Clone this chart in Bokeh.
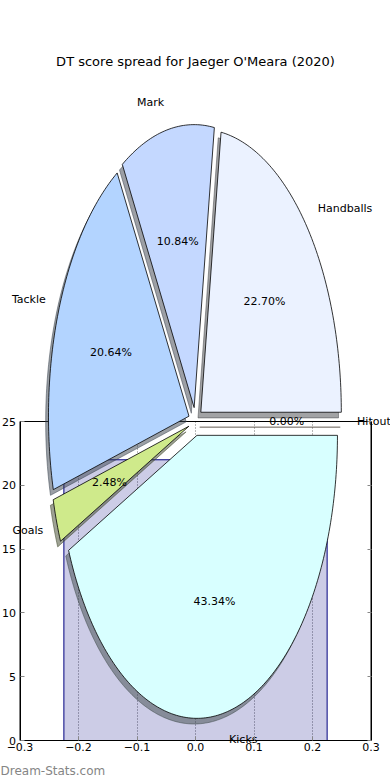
import numpy as np
from bokeh.plotting import figure
from bokeh.models import Range1d, LinearAxis, FixedTicker, ColumnDataSource, Label, CustomJSTickFormatter
from bokeh.core.properties import value
from bokeh.embed import file_html
from bokeh.resources import INLINE

# ---------------- data ----------------
title = "DT score spread for Jaeger O'Meara (2020)"
categories = ["Handballs", "Mark", "Tackle", "Goals", "Kicks", "Hitout"]
shares = [22.70, 10.84, 20.64, 2.48, 43.34, 0.00]
colors = ["#ebf2ff", "#c4d8ff", "#b3d4ff", "#cfea8b", "#d8ffff", "#ffe4c4"]

hist_edges = [-0.225, 0.225]
hist_counts = [22]

x_ticks = [-0.3, -0.2, -0.1, 0.0, 0.1, 0.2, 0.3]
x_tick_labels = ["\u22120.3", "\u22120.2", "\u22120.1", "0.0", "0.1", "0.2", "0.3"]
y_ticks = [0, 5, 10, 15, 20, 25]
x_limits = (-0.3, 0.3)
y_limits = (0, 25)
watermark = "Dream-Stats.com"

# ---------------- style / layout ----------------
W, H = 390, 780
FONT = "DejaVu Sans"
FS = "11px"
EXPLODE = 0.05
SHADOW = -0.02
LABEL_DIST = 1.1
PCT_DIST = 0.6

# pixel calibration of the histogram axes
AX_L, AX_R, AX_T, AX_B = 19.5, 370.5, 421.0, 740.0
# pixel calibration of the pie
PIE_CX, PIE_CY, PIE_RX, PIE_RY = 195.0, 421.0, 140.5, 283.0

sx = (x_limits[1] - x_limits[0]) / (AX_R - AX_L)
sy = (y_limits[1] - y_limits[0]) / (AX_B - AX_T)
hist_xr = Range1d(x_limits[0] - AX_L * sx, x_limits[0] + (W - AX_L) * sx)
hist_yr = Range1d(y_limits[0] - (H - AX_B) * sy, y_limits[0] + AX_B * sy)
pie_xr = Range1d(-PIE_CX / PIE_RX, (W - PIE_CX) / PIE_RX)
pie_yr = Range1d(-(H - PIE_CY) / PIE_RY, PIE_CY / PIE_RY)

p = figure(width=W, height=H, x_range=hist_xr, y_range=hist_yr,
           min_border=0, toolbar_location=None, output_backend="svg",
           outline_line_color=None, background_fill_color="white")
p.extra_x_ranges = {"pie": pie_xr}
p.extra_y_ranges = {"pie": pie_yr}

TICK_COLOR = "#888888"

# bottom axis
xa = p.xaxis[0]
xa.fixed_location = y_limits[0]
xa.bounds = x_limits
xa.ticker = FixedTicker(ticks=x_ticks)
xa.major_label_overrides = {t: l for t, l in zip(x_ticks, x_tick_labels)}
xa.major_tick_in = 4
xa.major_tick_out = 0
xa.minor_tick_in = 0
xa.minor_tick_out = 0
xa.major_label_standoff = 2
xa.major_label_text_font = FONT
xa.major_label_text_font_size = FS
xa.major_label_text_color = "black"
xa.axis_line_color = "black"
xa.major_tick_line_color = TICK_COLOR

# left axis
ya = p.yaxis[0]
ya.fixed_location = x_limits[0]
ya.bounds = y_limits
ya.ticker = FixedTicker(ticks=y_ticks)
ya.major_tick_in = 4
ya.major_tick_out = 0
ya.minor_tick_in = 0
ya.minor_tick_out = 0
ya.major_label_standoff = 4
ya.major_label_text_font = FONT
ya.major_label_text_font_size = FS
ya.major_label_text_color = "black"
ya.axis_line_color = "black"
ya.major_tick_line_color = TICK_COLOR

# right axis (ticks only)
ra = LinearAxis(fixed_location=x_limits[1], bounds=y_limits,
                ticker=FixedTicker(ticks=y_ticks),
                formatter=CustomJSTickFormatter(code="return ''"),
                major_tick_in=4, major_tick_out=0, minor_tick_in=0, minor_tick_out=0,
                axis_line_color="black", major_tick_line_color=TICK_COLOR)
p.add_layout(ra, "right")

# grid: vertical dotted only
GRID_COLOR = "#6e6e6e"
p.ygrid.visible = False
p.xgrid.ticker = FixedTicker(ticks=x_ticks)
p.xgrid.grid_line_color = GRID_COLOR
p.xgrid.grid_line_dash = "1 2"
p.xgrid.grid_line_width = 1
try:
    p.xgrid.cross_bounds = y_limits
except Exception:
    p.xgrid.visible = False
    p.segment(x0=x_ticks[1:-1], y0=[y_limits[0]] * (len(x_ticks) - 2),
              x1=x_ticks[1:-1], y1=[y_limits[1]] * (len(x_ticks) - 2),
              line_color=GRID_COLOR, line_dash="1 2", line_width=1)

# histogram bar
p.quad(left=[hist_edges[0]], right=[hist_edges[1]], bottom=[0], top=hist_counts,
       fill_color="navy", fill_alpha=0.2, line_color="navy", line_width=1)

# axes frame box
p.quad(left=[x_limits[0]], right=[x_limits[1]], bottom=[y_limits[0]], top=[y_limits[1]],
       fill_color=None, line_color="black", line_width=1)

# ---------------- pie geometry ----------------
def darken(hexcol, f=0.3):
    h = hexcol.lstrip("#")
    r, g, b = (int(h[i:i + 2], 16) for i in (0, 2, 4))
    return "#%02x%02x%02x" % (int(r * f), int(g * f), int(b * f))

total = float(sum(shares))
wx, wy, sxs, sys_, shcol = [], [], [], [], []
lab = {"left": dict(x=[], y=[], t=[]), "right": dict(x=[], y=[], t=[])}
pct = dict(x=[], y=[], t=[])
theta = 0.0
for name, val, col in zip(categories, shares, colors):
    frac = val / total
    t1, t2 = theta, theta + frac
    tm = np.pi * (t1 + t2)
    ox, oy = EXPLODE * np.cos(tm), EXPLODE * np.sin(tm)
    n = max(2, int(abs(t2 - t1) * 360) + 2)
    a = 2 * np.pi * np.linspace(t1, t2, n)
    xs = np.concatenate([[ox], ox + np.cos(a)])
    ys = np.concatenate([[oy], oy + np.sin(a)])
    wx.append(list(xs)); wy.append(list(ys))
    sxs.append(list(xs + SHADOW)); sys_.append(list(ys + SHADOW))
    shcol.append(darken(col))
    xt = ox + LABEL_DIST * np.cos(tm)
    yt = oy + LABEL_DIST * np.sin(tm)
    side = "left" if xt > 0 else "right"
    lab[side]["x"].append(xt); lab[side]["y"].append(yt); lab[side]["t"].append(name)
    pct["x"].append(ox + PCT_DIST * np.cos(tm))
    pct["y"].append(oy + PCT_DIST * np.sin(tm))
    pct["t"].append("%.2f%%" % (100 * frac))
    theta = t2

shadow_src = ColumnDataSource(dict(xs=sxs, ys=sys_, c=shcol))
p.patches("xs", "ys", source=shadow_src, x_range_name="pie", y_range_name="pie",
          fill_color="c", fill_alpha=0.5, line_color="c", line_alpha=0.5, line_width=1)

wedge_src = ColumnDataSource(dict(xs=wx, ys=wy, c=colors, name=categories))
p.patches("xs", "ys", source=wedge_src, x_range_name="pie", y_range_name="pie",
          fill_color="c", line_color="black", line_width=0.8)

for side in ("left", "right"):
    d = lab[side]
    if d["t"]:
        p.text(x=d["x"], y=d["y"], text=d["t"], x_range_name="pie", y_range_name="pie",
               text_align=side, text_baseline="middle", text_font=value(FONT),
               text_font_size=value(FS), text_color="black")
p.text(x=pct["x"], y=pct["y"], text=pct["t"], x_range_name="pie", y_range_name="pie",
       text_align="center", text_baseline="middle", text_font=value(FONT),
       text_font_size=value(FS), text_color="black")

# title and watermark
p.add_layout(Label(x=0, y=(PIE_CY - 61) / PIE_RY, x_range_name="pie", y_range_name="pie",
                   text=title, text_align="center", text_baseline="middle",
                   text_font=FONT, text_font_size="13px", text_color="black"))
p.add_layout(Label(x=-PIE_CX / PIE_RX, y=(PIE_CY - 770) / PIE_RY, x_range_name="pie", y_range_name="pie",
                   text=watermark, text_align="left", text_baseline="middle",
                   text_font=FONT, text_font_size="12px", text_color="#858585"))

open("out.html", "w").write(file_html(p, INLINE))
